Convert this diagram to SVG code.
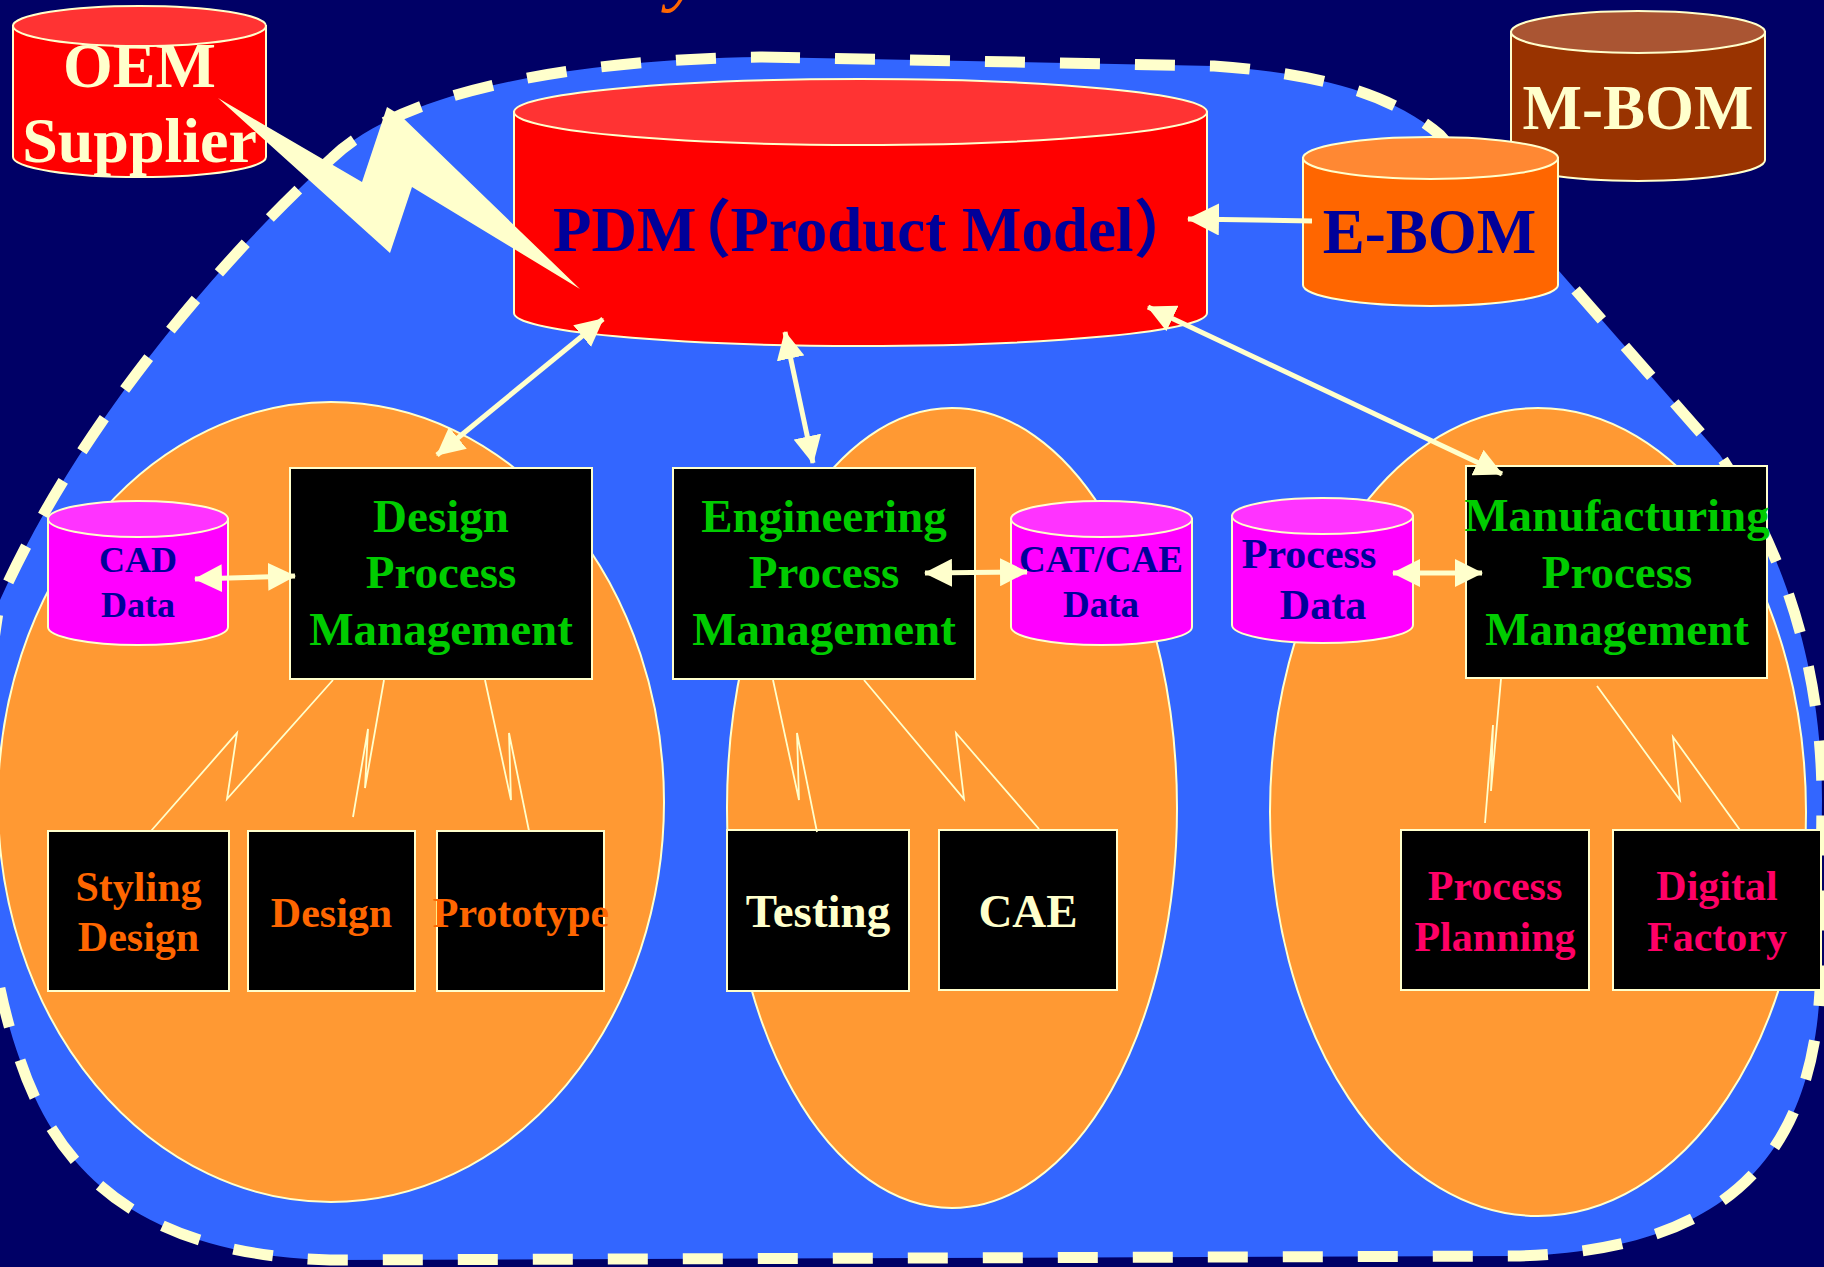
<svg xmlns="http://www.w3.org/2000/svg" width="1824" height="1267" viewBox="0 0 1824 1267">
<defs>
<style>
.t{font-family:"Liberation Serif","Times New Roman",serif;font-weight:bold;text-anchor:middle}
.cyl{stroke:#FFFFCC;stroke-width:2}
.box{fill:#000000;stroke:#FFFFCC;stroke-width:2}
.ell{fill:#FF9933;stroke:#FFFFCC;stroke-width:2}
.zz{fill:none;stroke:#FFFFCC;stroke-width:1.8}
.arr{fill:none;stroke:#FFFFCC;stroke-width:5}
.g{fill:#00CC00;font-size:47px}
.o{fill:#FF6600;font-size:42px}
.c{fill:#FFFFCC;font-size:47px}
.p{fill:#FF0066;font-size:42px}
.b{fill:#000099}
</style>
<marker id="ah" markerUnits="userSpaceOnUse" markerWidth="28" markerHeight="28" refX="27" refY="14" orient="auto-start-reverse" viewBox="0 0 28 28">
<path d="M0,0 L28,14 L0,28 Z" fill="#FFFFCC"/>
</marker>
<marker id="ahb" markerUnits="userSpaceOnUse" markerWidth="32" markerHeight="32" refX="31" refY="16" orient="auto" viewBox="0 0 32 32">
<path d="M0,0 L32,16 L0,32 Z" fill="#FFFFCC"/>
</marker>
</defs>
<rect x="0" y="0" width="1824" height="1267" fill="#000066"/>
<text x="668" y="-4" font-family="Liberation Serif,serif" font-style="italic" font-size="80" fill="#FF6600">y</text>

<g id="region">
<path d="M 760,57 L 1214,66 C 1300,72 1385,88 1440,135 L 1720,455 C 1790,560 1822,680 1822,800 L 1820,990 C 1810,1180 1700,1250 1520,1256 L 330,1260 C 150,1255 60,1180 20,1060 C -20,950 -30,780 0,600 C 80,420 230,250 332,158 C 398,94 560,60 760,57 Z" fill="#3366FF" stroke="#FFFFCC" stroke-width="11" stroke-dasharray="40 35"/>
</g>

<g id="ellipse-design"><ellipse class="ell" cx="331" cy="802" rx="333" ry="400"/></g>
<g id="ellipse-engineering"><ellipse class="ell" cx="952" cy="808" rx="225" ry="400"/></g>
<g id="ellipse-manufacturing"><ellipse class="ell" cx="1538" cy="812" rx="268" ry="404"/></g>

<g id="oem">
<path class="cyl" fill="#FF0000" d="M13,26 V157 A126.5,20 0 0 0 266,157 V26 Z"/>
<ellipse class="cyl" fill="#FF3333" cx="139.5" cy="26" rx="126.5" ry="20"/>
<text class="t" x="139.5" y="87" font-size="64" fill="#FFFFCC">OEM</text>
<text class="t" x="139.5" y="162" font-size="64" fill="#FFFFCC">Supplier</text>
</g>

<g id="mbom">
<path class="cyl" fill="#993300" d="M1511,32 V160 A127,21 0 0 0 1765,160 V32 Z"/>
<ellipse class="cyl" fill="#AA5533" cx="1638" cy="32" rx="127" ry="21"/>
<text class="t" x="1638" y="129" font-size="63" fill="#FFFFCC">M-BOM</text>
</g>

<g id="pdm">
<path class="cyl" fill="#FF0000" d="M514,112 V313 A346.5,33 0 0 0 1207,313 V112 Z"/>
<ellipse class="cyl" fill="#FF3333" cx="860.5" cy="112" rx="346.5" ry="33"/>
<text x="553" y="251" font-family="Liberation Serif,'Noto Sans CJK SC',serif" font-weight="bold" font-size="63" fill="#000099">PDM<tspan dx="-28">（</tspan><tspan dx="-1">Product Model</tspan><tspan dx="0">）</tspan></text>
</g>

<g id="ebom">
<path class="cyl" fill="#FF6600" d="M1303,158 V285 A127.5,21 0 0 0 1558,285 V158 Z"/>
<ellipse class="cyl" fill="#FF8833" cx="1430.5" cy="158" rx="127.5" ry="21"/>
<text class="t b" x="1429.5" y="253" font-size="63">E-BOM</text>
</g>

<g id="bolt">
<polygon points="218,98 362,182 387,107 400,115 580,289 412,187 390,253" fill="#FFFFCC"/>
</g>

<g id="cad">
<path class="cyl" fill="#FF00FF" d="M48,519 V627 A90,18 0 0 0 228,627 V519 Z"/>
<ellipse class="cyl" fill="#FF33FF" cx="138" cy="519" rx="90" ry="18"/>
<text class="t b" x="138" y="572" font-size="36">CAD</text>
<text class="t b" x="138" y="617" font-size="36">Data</text>
</g>

<g id="catcae">
<path class="cyl" fill="#FF00FF" d="M1011,519 V627 A90.5,18 0 0 0 1192,627 V519 Z"/>
<ellipse class="cyl" fill="#FF33FF" cx="1101.5" cy="519" rx="90.5" ry="18"/>
<text class="t b" x="1101" y="572" font-size="37">CAT/CAE</text>
<text class="t b" x="1101" y="617" font-size="37">Data</text>
</g>

<g id="processdata">
<path class="cyl" fill="#FF00FF" d="M1232,516 V625 A90.5,18 0 0 0 1413,625 V516 Z"/>
<ellipse class="cyl" fill="#FF33FF" cx="1322.5" cy="516" rx="90.5" ry="18"/>
<text class="t b" x="1309" y="568" font-size="42">Process</text>
<text class="t b" x="1323" y="619" font-size="42">Data</text>
</g>

<g id="design-pm">
<rect class="box" x="290" y="468" width="302" height="211"/>
<text class="t g" x="441" y="532">Design</text>
<text class="t g" x="441" y="588">Process</text>
<text class="t g" x="441" y="645">Management</text>
</g>
<g id="engineering-pm">
<rect class="box" x="673" y="468" width="302" height="211"/>
<text class="t g" x="824" y="532">Engineering</text>
<text class="t g" x="824" y="588">Process</text>
<text class="t g" x="824" y="645">Management</text>
</g>
<g id="manufacturing-pm">
<rect class="box" x="1466" y="466" width="301" height="212"/>
<text class="t g" x="1617" y="531">Manufacturing</text>
<text class="t g" x="1617" y="588">Process</text>
<text class="t g" x="1617" y="645">Management</text>
</g>

<g id="styling">
<rect class="box" x="48" y="831" width="181" height="160"/>
<text class="t o" x="138.5" y="901">Styling</text>
<text class="t o" x="138.5" y="951">Design</text>
</g>
<g id="design">
<rect class="box" x="248" y="831" width="167" height="160"/>
<text class="t o" x="331.5" y="927">Design</text>
</g>
<g id="prototype">
<rect class="box" x="437" y="831" width="167" height="160"/>
<text class="t o" x="521" y="927">Prototype</text>
</g>
<g id="testing">
<rect class="box" x="727" y="830" width="182" height="161"/>
<text class="t c" x="818" y="927">Testing</text>
</g>
<g id="cae">
<rect class="box" x="939" y="830" width="178" height="160"/>
<text class="t c" x="1028" y="927">CAE</text>
</g>
<g id="process-planning">
<rect class="box" x="1401" y="830" width="188" height="160"/>
<text class="t p" x="1495" y="900">Process</text>
<text class="t p" x="1495" y="951">Planning</text>
</g>
<g id="digital-factory">
<rect class="box" x="1613" y="830" width="208" height="160"/>
<text class="t p" x="1717" y="900">Digital</text>
<text class="t p" x="1717" y="951">Factory</text>
</g>

<g id="connectors">
<polyline class="zz" points="333,680 227,799 237,733 151,831"/>
<polyline class="zz" points="384,680 365,788 368,729 353,817"/>
<polyline class="zz" points="485,680 511,800 509,733 529,831"/>
<polyline class="zz" points="773,680 799,800 797,733 817,832"/>
<polyline class="zz" points="864,680 964,799 956,733 1039,829"/>
<polyline class="zz" points="1501,679 1491,791 1493,725 1485,823"/>
<polyline class="zz" points="1597,686 1680,800 1673,737 1740,830"/>
<line class="arr" x1="603" y1="319" x2="437" y2="455" marker-start="url(#ah)" marker-end="url(#ah)"/>
<line class="arr" x1="785" y1="332" x2="813" y2="463" marker-start="url(#ah)" marker-end="url(#ah)"/>
<line class="arr" x1="1148" y1="307" x2="1502" y2="474" marker-start="url(#ah)" marker-end="url(#ah)"/>
<line class="arr" x1="195" y1="579" x2="295" y2="576" marker-start="url(#ah)" marker-end="url(#ah)"/>
<line class="arr" x1="925" y1="573" x2="1027" y2="572" marker-start="url(#ah)" marker-end="url(#ah)"/>
<line class="arr" x1="1393" y1="573" x2="1482" y2="573" marker-start="url(#ah)" marker-end="url(#ah)"/>
<line class="arr" x1="1312" y1="221" x2="1188" y2="219" stroke-width="7" marker-end="url(#ahb)"/>
</g>
</svg>
